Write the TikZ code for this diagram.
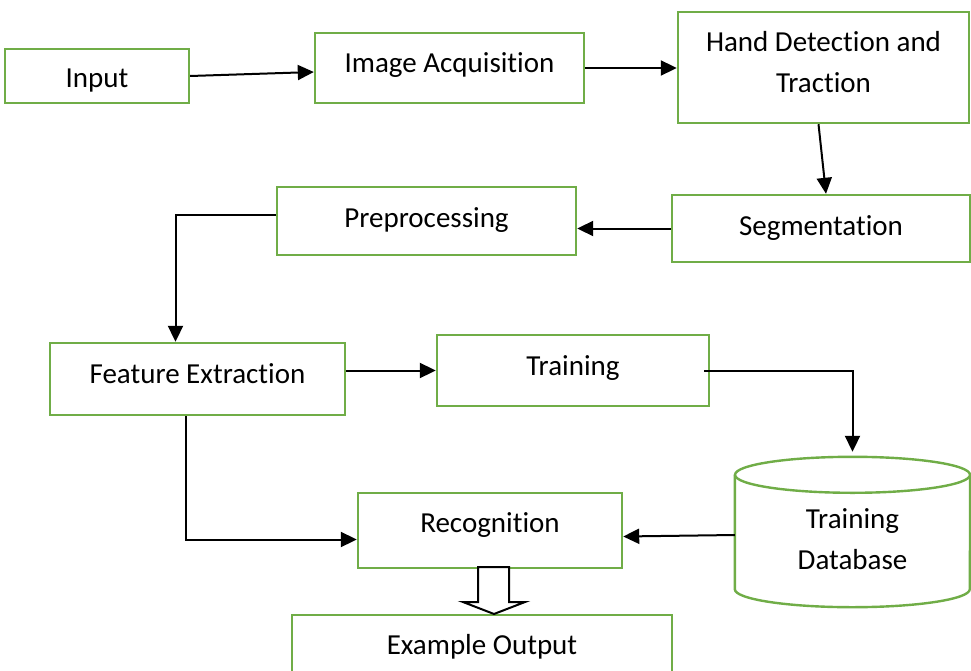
\documentclass[tikz,border=0pt]{standalone}
\usepackage{fontspec}
\setmainfont{Carlito}[Ligatures=NoCommon]
\usetikzlibrary{arrows.meta}
\definecolor{boxgreen}{RGB}{112,173,71}

\tikzset{
  box/.style={draw=boxgreen,line width=2.4pt,fill=white,align=center,
    font=\fontsize{29}{41}\selectfont,text height=20pt,text depth=7pt},
  dbtext/.style={align=center,font=\fontsize{29}{41}\selectfont},
  arr/.style={draw=black,line width=2pt,-{Triangle[length=16pt,width=15pt]}},
  hollow/.style={draw=black,line width=2pt,fill=white,line join=miter}
}

\begin{document}
\begin{tikzpicture}[x=1pt,y=-1pt]
      \clip (0,0) rectangle (971,671);
      \fill[white] (0,0) rectangle (971,671);

      \node [box,minimum width=184pt,minimum height=54pt,text height=31pt] (input) at (97,76) {Input};
      \node [box,minimum width=269pt,minimum height=70pt,text depth=10pt] (imgacq) at (449.5,68) {Image Acquisition};
      \node [box,minimum width=291pt,minimum height=111pt,text height=61pt,text depth=11pt] (hand) at (823.5,67.5) {Hand Detection and\\Traction};
      \node [box,minimum width=298pt,minimum height=67pt] (seg) at (821,228.5) {Segmentation};
      \node [box,minimum width=299pt,minimum height=68pt] (preproc) at (426.5,221) {Preprocessing};
      \node [box,minimum width=295pt,minimum height=72pt,text depth=12pt] (featext) at (197.5,379) {Feature Extraction};
      \node [box,minimum width=272pt,minimum height=71pt,text depth=11pt] (training) at (573,370.5) {Training};
      \node [box,minimum width=264pt,minimum height=75pt,text depth=17pt] (recog) at (490,530.5) {Recognition};
      \node [box,minimum width=380pt,minimum height=72pt,text depth=14pt] (exout) at (482,651) {Example Output};

      % database cylinder
      \node [minimum width=235pt,minimum height=150pt] (db) at (852.5,532) {};
      \draw[boxgreen,line width=2.4pt] ([yshift=-18pt]db.north) ellipse (117.5pt and 18pt);
      \draw[boxgreen,line width=2.4pt] ([yshift=-18pt]db.north west) -- ([yshift=18pt]db.south west)
        arc[start angle=180,end angle=360,x radius=117.5pt,y radius=18pt] -- ([yshift=-18pt]db.north east);
      \node [dbtext] (dblabel) at (852.5,539) {Training\\Database};

      \draw[arr] (input.east) -- ([yshift=-4pt]imgacq.west);
      \draw[arr] (imgacq.east) -- (hand.west |- imgacq.east);
      \draw[arr] ([xshift=-5pt]hand.south) -- ([xshift=5pt]seg.north);
      \draw[arr] (seg.west) -- (preproc.east |- seg.west);
      \draw[arr] ([yshift=6pt]preproc.west) -| ([xshift=-22pt]featext.north);
      \draw[arr] (featext.east |- training.west) -- (training.west);
      \draw[arr] ([xshift=-6pt]training.east) -| ([yshift=5pt]db.north);
      \draw[arr] ([xshift=-12pt]featext.south) |- ([yshift=-9pt]recog.west);
      \draw[arr] ([yshift=-3pt]db.west) -- ([yshift=-6pt]recog.east);

      % hollow arrow to the output
      \draw[hollow] (478,567) -- (509,567) -- (509,602) -- (525,602) -- (494,614)
        -- (463,602) -- (478,602) -- cycle;
    \end{tikzpicture}
\end{document}
